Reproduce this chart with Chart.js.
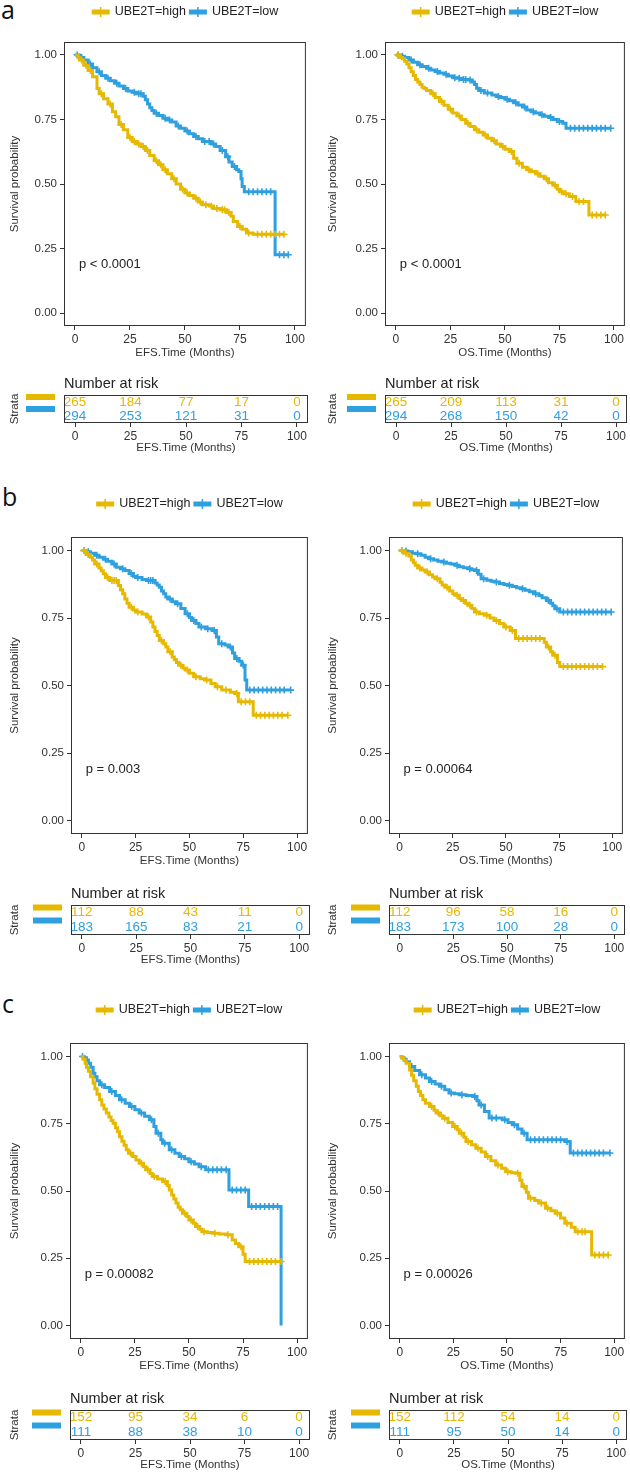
<!DOCTYPE html>
<html>
<head>
<meta charset="utf-8">
<script src="https://cdn.jsdelivr.net/npm/chart.js@4.4.1/dist/chart.umd.min.js"></script>
<style>
  body { margin: 0; background: #fff; }
  #wrap { position: relative; width: 630px; height: 1473px; overflow: hidden; background: #fff; }
  #wrap canvas { position: absolute; }
  .tag { position: absolute; font-family: "Open Sans", "Noto Sans", sans-serif; font-size: 25px; line-height: 24px; color: #111; }
</style>
</head>
<body>
<div id="wrap">
  <div class="tag" style="left:1px;top:-3px">a</div>
  <div class="tag" style="left:2px;top:484px">b</div>
  <div class="tag" style="left:2px;top:991px">c</div>
</div>
<script>
const HIGH = '#E7B800';
const LOW = '#2E9FDF';
const strata = ['UBE2T=high', 'UBE2T=low'];
const xTicks = [0, 25, 50, 75, 100];
const yTicks = [0, 0.25, 0.5, 0.75, 1];
const riskTimes = [0, 25, 50, 75, 100];

// KM curves as [months, survival]; a point with the same survival as the one before is a censor (+)
const aEfsHigh = [[0,1],[1.5,0.99],[2,0.98],[3,0.98],[4,0.96],[5,0.96],[6,0.94],[7,0.94],[8,0.915],[10,0.87],[11,0.85],[12,0.85],[13,0.83],[15,0.81],[16,0.81],[17,0.78],[18.5,0.76],[20,0.73],[21,0.73],[22,0.71],[24,0.68],[25,0.68],[26,0.665],[27,0.665],[28,0.655],[29,0.655],[30,0.645],[31,0.645],[32,0.63],[33,0.63],[34,0.61],[36,0.59],[37,0.59],[38,0.575],[39,0.575],[40,0.555],[41,0.555],[42,0.54],[44,0.52],[45,0.52],[46,0.5],[48,0.48],[49,0.48],[50,0.465],[51,0.465],[52,0.455],[54,0.445],[55,0.445],[56,0.43],[57,0.43],[58,0.42],[59.5,0.42],[61,0.415],[62,0.415],[63,0.405],[64.5,0.405],[66,0.4],[67,0.4],[68,0.4],[69,0.39],[70,0.39],[71,0.375],[72,0.355],[74,0.335],[75,0.335],[76,0.325],[78,0.31],[79,0.31],[81,0.305],[83,0.305],[85,0.305],[87,0.305],[89,0.305],[91,0.305],[93,0.305],[95,0.305]];
const aEfsLow = [[0,1],[1,1],[2,0.99],[3,0.99],[4,0.98],[6,0.965],[7,0.965],[8,0.95],[10,0.935],[11,0.935],[12,0.92],[14,0.91],[15,0.91],[16,0.9],[18,0.89],[19,0.89],[20,0.88],[22,0.87],[23,0.87],[24,0.86],[26,0.855],[27,0.855],[28,0.85],[29,0.85],[30,0.85],[31,0.84],[32,0.826],[33,0.81],[34,0.795],[35,0.785],[36,0.774],[37,0.774],[38,0.765],[40,0.755],[41,0.755],[42,0.748],[43,0.748],[44,0.74],[46,0.725],[47,0.725],[48,0.716],[50,0.705],[51,0.705],[52,0.695],[54,0.684],[55,0.684],[56,0.675],[58,0.665],[59,0.665],[61,0.665],[62,0.655],[63,0.655],[64,0.645],[66,0.63],[67,0.63],[68.5,0.606],[69.5,0.606],[70,0.585],[71.5,0.568],[72.5,0.568],[73.5,0.555],[74.5,0.548],[75.5,0.52],[76,0.49],[77,0.47],[79,0.47],[81,0.47],[83,0.47],[85,0.47],[87,0.47],[89,0.47],[91,0.226],[93,0.226],[95,0.226],[97,0.226]];
const aOsHigh = [[0,1],[1,1],[2,0.99],[3,0.985],[4,0.975],[5,0.965],[6,0.95],[7,0.935],[8,0.92],[9,0.905],[10,0.895],[11,0.885],[12,0.875],[13,0.87],[14,0.862],[16,0.85],[17,0.85],[18,0.835],[20,0.82],[21,0.82],[22,0.805],[24,0.79],[25,0.79],[26,0.775],[28,0.763],[29,0.763],[30,0.75],[32,0.735],[33,0.735],[34,0.723],[36,0.71],[37,0.71],[38,0.7],[40,0.69],[41,0.69],[42,0.677],[44,0.668],[45,0.668],[46,0.655],[48,0.645],[49,0.645],[50,0.635],[52,0.626],[53,0.626],[54,0.6],[55.5,0.58],[56.5,0.58],[58,0.565],[60,0.555],[61,0.555],[62,0.548],[64,0.54],[65,0.54],[66,0.53],[68,0.52],[69,0.52],[70,0.505],[72,0.495],[73,0.495],[74,0.48],[75,0.47],[76,0.47],[77,0.462],[78,0.462],[79.5,0.452],[81,0.452],[82.5,0.432],[84,0.432],[86,0.432],[88.5,0.38],[90,0.38],[92,0.38],[94,0.38],[96,0.38]];
const aOsLow = [[0,1],[1,1],[2,0.995],[3,0.995],[4,0.99],[6,0.98],[7,0.98],[8,0.972],[10,0.962],[11,0.962],[12,0.955],[14,0.948],[15,0.948],[16,0.942],[18,0.936],[19,0.936],[20,0.93],[22,0.925],[23,0.925],[24,0.918],[26,0.912],[27,0.912],[28,0.91],[29,0.91],[30,0.905],[31,0.905],[32,0.905],[33,0.903],[34,0.903],[35,0.895],[36,0.885],[37,0.871],[38,0.862],[39,0.862],[40.5,0.852],[42,0.852],[44,0.845],[46,0.839],[47,0.839],[48,0.835],[50,0.828],[51,0.828],[52,0.822],[54,0.815],[55,0.815],[56,0.806],[58,0.798],[59,0.798],[60,0.787],[62,0.78],[63,0.78],[64,0.775],[66,0.768],[67,0.768],[68,0.762],[70,0.758],[71,0.758],[72,0.75],[74,0.742],[75,0.742],[76.5,0.735],[78,0.716],[80,0.716],[82,0.716],[84,0.716],[86,0.716],[88,0.716],[90,0.716],[92,0.716],[94,0.716],[96,0.716],[98.5,0.716]];

const bEfsHigh = [[0,1],[1,1],[2,0.985],[3,0.985],[4,0.975],[5,0.965],[6,0.95],[7,0.95],[8,0.935],[9,0.925],[10,0.914],[11,0.9],[12,0.9],[13,0.889],[14,0.889],[15,0.889],[16,0.889],[17,0.87],[18,0.855],[19,0.84],[20,0.82],[21,0.805],[22,0.79],[23,0.79],[24,0.78],[25,0.772],[26,0.772],[28,0.765],[30,0.754],[31,0.754],[32,0.735],[33,0.717],[34,0.7],[35,0.685],[36,0.667],[37,0.667],[38,0.655],[39,0.643],[40,0.625],[41,0.625],[42,0.606],[43,0.595],[44,0.585],[45,0.575],[46,0.575],[47,0.565],[48,0.557],[49,0.557],[50,0.545],[52,0.532],[53,0.532],[55,0.525],[57,0.52],[58,0.52],[60,0.507],[62,0.495],[63,0.495],[65,0.483],[67,0.483],[69,0.475],[71,0.47],[72,0.47],[72.7,0.44],[74,0.44],[76,0.44],[78,0.44],[79.6,0.39],[81,0.39],[83,0.39],[85,0.39],[87,0.39],[89,0.39],[91,0.39],[93,0.39],[95.7,0.39]];
const bEfsLow = [[0,1],[1,1],[2,0.995],[3,0.995],[4,0.99],[6,0.982],[7,0.982],[8,0.975],[10,0.968],[11,0.968],[12,0.96],[14,0.95],[15,0.95],[16,0.938],[18,0.932],[19,0.932],[20,0.926],[22,0.915],[23,0.915],[24,0.905],[25,0.9],[26,0.9],[28,0.893],[30,0.889],[31,0.889],[32,0.889],[33,0.889],[34,0.88],[35,0.872],[36,0.864],[37,0.85],[38,0.84],[39,0.828],[40,0.82],[41,0.82],[42,0.81],[43.5,0.803],[44.5,0.803],[46,0.785],[48,0.766],[49,0.766],[50,0.752],[51,0.741],[52,0.741],[53,0.73],[54.4,0.717],[55.5,0.717],[57.4,0.71],[58.5,0.71],[60.5,0.704],[61.5,0.704],[62.5,0.68],[63.6,0.655],[65,0.655],[66.5,0.65],[68,0.643],[69,0.643],[70,0.62],[71,0.6],[72,0.6],[73,0.59],[74.3,0.575],[75,0.575],[75.8,0.52],[76.6,0.483],[78,0.483],[80,0.483],[82,0.483],[84,0.483],[86,0.483],[88,0.483],[90,0.483],[92,0.483],[94,0.483],[97,0.483]];
const bOsHigh = [[0,1],[1,1],[2,0.99],[3,0.99],[4.3,0.98],[5.5,0.965],[6.5,0.955],[7.4,0.945],[8.5,0.935],[9.5,0.935],[10.5,0.928],[12,0.92],[13,0.92],[14,0.91],[15.5,0.902],[16.7,0.895],[17.7,0.895],[19,0.882],[20,0.872],[21.3,0.864],[22.3,0.864],[23.5,0.85],[25,0.84],[26,0.834],[27,0.834],[28,0.822],[29,0.815],[30,0.815],[31,0.805],[32,0.797],[33,0.797],[34,0.785],[35.2,0.772],[36.2,0.772],[37.5,0.766],[39.8,0.76],[41,0.76],[42.5,0.75],[44.4,0.741],[45.5,0.741],[47,0.73],[49,0.717],[50,0.717],[52,0.704],[53,0.704],[54.5,0.674],[56,0.674],[58,0.674],[60,0.674],[62,0.674],[64,0.674],[66,0.674],[68,0.66],[69,0.643],[70,0.643],[71,0.625],[72,0.612],[73,0.612],[74.2,0.585],[75.3,0.57],[77,0.57],[79,0.57],[81,0.57],[83,0.57],[85,0.57],[87,0.57],[89,0.57],[91,0.57],[93,0.57],[95.4,0.57]];
const bOsLow = [[0,1],[1,1],[2,0.998],[3,0.998],[4,0.995],[6,0.99],[7.4,0.988],[8.5,0.988],[10,0.982],[12,0.975],[13.6,0.969],[14.6,0.969],[16,0.965],[18,0.96],[19.8,0.957],[20.8,0.957],[22,0.953],[24,0.95],[26,0.945],[27,0.945],[28,0.94],[30,0.936],[32,0.932],[33,0.932],[34,0.929],[35.2,0.926],[36.2,0.926],[37,0.912],[38.3,0.895],[39.5,0.895],[41,0.89],[43,0.886],[44.4,0.883],[45.5,0.883],[47,0.878],[49,0.874],[50.6,0.871],[51.6,0.871],[53,0.867],[55,0.862],[56.8,0.858],[57.8,0.858],[59,0.853],[61,0.847],[63,0.84],[64,0.84],[65.5,0.833],[67,0.825],[69,0.815],[70,0.815],[71,0.805],[72,0.795],[73,0.784],[74,0.784],[75.3,0.772],[77,0.772],[79,0.772],[81,0.772],[83,0.772],[85,0.772],[87,0.772],[89,0.772],[91,0.772],[93,0.772],[95,0.772],[97,0.772],[99.5,0.772]];

const cEfsHigh = [[0,1],[1,0.99],[2,0.975],[2.6,0.96],[3.5,0.945],[4.5,0.925],[5.7,0.9],[6.5,0.88],[7.5,0.86],[8.7,0.839],[9.7,0.82],[10.7,0.805],[11.8,0.79],[13,0.775],[14,0.762],[14.9,0.752],[16,0.735],[17,0.72],[17.9,0.702],[19,0.685],[20,0.67],[21,0.653],[22,0.64],[23,0.64],[24,0.628],[25.5,0.615],[27,0.603],[28,0.603],[29,0.59],[30,0.579],[31,0.579],[32,0.565],[33,0.554],[34,0.554],[35.5,0.545],[37.8,0.535],[39,0.535],[40,0.52],[40.9,0.504],[42,0.485],[43,0.47],[44,0.455],[45,0.44],[46,0.43],[47,0.417],[48,0.417],[49,0.405],[50,0.392],[51,0.392],[52,0.38],[53,0.368],[54,0.368],[55,0.358],[56,0.349],[57,0.349],[58.5,0.346],[60.8,0.343],[62,0.343],[64,0.34],[67,0.337],[68,0.337],[70,0.318],[71.5,0.305],[73,0.293],[74,0.293],[75,0.265],[76,0.238],[78,0.238],[80,0.238],[82,0.238],[84,0.238],[86,0.238],[88,0.238],[90,0.238],[92.6,0.238]];
const cEfsLow = [[0,1],[0.8,1],[1.5,0.995],[2.6,0.987],[3.5,0.975],[4.5,0.96],[5.7,0.938],[6.5,0.925],[7.5,0.91],[8.7,0.895],[9.7,0.895],[11,0.885],[13.3,0.87],[14.3,0.87],[16,0.855],[17.9,0.839],[18.9,0.839],[20.5,0.826],[22.5,0.814],[23.5,0.814],[25,0.802],[27,0.79],[28,0.79],[29.5,0.778],[31.7,0.765],[32.7,0.765],[33.8,0.74],[34.8,0.715],[35.8,0.715],[37,0.69],[37.8,0.677],[38.8,0.677],[40.9,0.653],[42,0.653],[43.5,0.64],[45.5,0.628],[46.5,0.628],[48,0.62],[50,0.609],[51,0.609],[52.5,0.6],[54.7,0.59],[55.7,0.59],[57.7,0.579],[59,0.579],[61,0.579],[63,0.579],[65,0.579],[67.2,0.579],[68.5,0.504],[70,0.504],[72,0.504],[74,0.504],[76,0.504],[77.6,0.442],[79,0.442],[81,0.442],[83,0.442],[85,0.442],[87,0.442],[89,0.442],[91,0.442],[92.6,0]];
const cOsHigh = [[0,1],[1,0.995],[2,0.985],[3,0.975],[4.6,0.95],[5.5,0.93],[6.5,0.91],[7.7,0.889],[8.7,0.87],[9.7,0.855],[10.8,0.839],[12,0.826],[13.9,0.814],[14.9,0.814],[16,0.8],[17,0.79],[18,0.79],[19,0.78],[20,0.77],[21,0.77],[22.5,0.755],[24.7,0.74],[25.7,0.74],[26.8,0.728],[27.8,0.715],[28.8,0.715],[29.9,0.7],[30.9,0.684],[31.9,0.684],[33.5,0.672],[35.5,0.659],[36.5,0.659],[38,0.645],[40,0.628],[41,0.628],[42.5,0.612],[44.8,0.597],[45.8,0.597],[47.5,0.585],[49.4,0.572],[50.4,0.572],[52,0.568],[54,0.566],[55,0.566],[56,0.54],[57,0.517],[58,0.517],[59,0.495],[60,0.473],[61,0.473],[63,0.465],[64.8,0.455],[66,0.455],[68,0.436],[69,0.436],[70.5,0.427],[72.5,0.417],[73.5,0.417],[75,0.4],[77,0.38],[78,0.38],[80,0.365],[81.8,0.349],[83,0.349],[85,0.349],[86.4,0.349],[89.5,0.262],[91,0.262],[93,0.262],[95,0.262],[97.2,0.262]];
const cOsLow = [[0,1],[1,0.995],[2,0.99],[3,0.98],[4.6,0.963],[5.6,0.963],[7,0.948],[9.3,0.932],[10.3,0.932],[12,0.92],[13.9,0.907],[14.9,0.907],[16.5,0.898],[18.5,0.889],[19.5,0.889],[21,0.876],[23,0.864],[24,0.864],[25.5,0.861],[27.8,0.858],[29,0.858],[31,0.855],[34,0.851],[35,0.851],[36,0.835],[37,0.82],[38,0.82],[39.5,0.795],[41.7,0.771],[43,0.771],[45,0.771],[47.8,0.765],[49,0.765],[50.5,0.755],[52.5,0.746],[53.5,0.746],[55,0.73],[57,0.715],[58,0.715],[59.4,0.69],[61,0.69],[63,0.69],[65,0.69],[67,0.69],[69,0.69],[71,0.69],[73,0.69],[75,0.69],[77,0.684],[78,0.684],[79.5,0.641],[81,0.641],[83,0.641],[85,0.641],[87,0.641],[89,0.641],[91,0.641],[93,0.641],[95,0.641],[98,0.641]];

// number at risk at 0, 25, 50, 75, 100 months
const aEfsRiskHigh = [265, 184, 77, 17, 0];
const aEfsRiskLow = [294, 253, 121, 31, 0];
const aOsRiskHigh = [265, 209, 113, 31, 0];
const aOsRiskLow = [294, 268, 150, 42, 0];
const bEfsRiskHigh = [112, 88, 43, 11, 0];
const bEfsRiskLow = [183, 165, 83, 21, 0];
const bOsRiskHigh = [112, 96, 58, 16, 0];
const bOsRiskLow = [183, 173, 100, 28, 0];
const cEfsRiskHigh = [152, 95, 34, 6, 0];
const cEfsRiskLow = [111, 88, 38, 10, 0];
const cOsRiskHigh = [152, 112, 54, 14, 0];
const cOsRiskLow = [111, 95, 50, 14, 0];

const pValues = ['p < 0.0001', 'p < 0.0001', 'p = 0.003', 'p = 0.00064', 'p = 0.00082', 'p = 0.00026'];

const FONT = '"Liberation Sans", Arial, sans-serif';
Chart.defaults.font.family = FONT;
const wrap = document.getElementById('wrap');

// page geometry of each row (plot box and risk table box)
const rows = [
  { T: 42, B: 326, RT: 395, RB: 423, gap: 30, L: [64, 385], R: [308, 627] },
  { T: 537, B: 834, RT: 905, RB: 935, gap: 33, L: [71, 389], R: [310, 625] },
  { T: 1043, B: 1339, RT: 1410, RB: 1440, gap: 33, L: [70, 389], R: [310, 627] }
];
const CL = [8, 326];
const PADTOP = 40;

function addCanvas(left, top, w, h) {
  const c = document.createElement('canvas');
  c.width = w; c.height = h;
  c.style.left = left + 'px'; c.style.top = top + 'px';
  c.style.width = w + 'px'; c.style.height = h + 'px';
  wrap.appendChild(c);
  return c;
}

const boxPlugin = {
  id: 'box',
  afterDraw(chart) {
    const a = chart.chartArea, ctx = chart.ctx;
    ctx.save();
    ctx.strokeStyle = '#333';
    ctx.lineWidth = 1;
    ctx.strokeRect(a.left + 0.5, a.top + 0.5, a.right - a.left - 1, a.bottom - a.top - 1);
    ctx.restore();
  }
};

const legendPlugin = {
  id: 'kmLegend',
  afterDraw(chart, args, opts) {
    const ctx = chart.ctx, a = chart.chartArea;
    ctx.save();
    ctx.font = '12.5px ' + FONT;
    const sw = 18, gap = 5, sep = 3;
    const items = chart.data.datasets.map(d => ({ text: d.label, color: d.borderColor, w: sw + gap + ctx.measureText(d.label).width }));
    const total = items.reduce((s, it) => s + it.w, 0) + sep * (items.length - 1);
    let x = (a.left + a.right) / 2 - total / 2;
    const y = a.top - opts.gap;
    items.forEach(it => {
      ctx.fillStyle = it.color;
      ctx.fillRect(x, y - 2.5, sw, 5);
      ctx.fillRect(x + sw / 2 - 0.75, y - 5, 1.5, 10);
      ctx.fillStyle = '#222';
      ctx.textAlign = 'left';
      ctx.textBaseline = 'middle';
      ctx.fillText(it.text, x + sw + gap, y);
      x += it.w + sep;
    });
    ctx.restore();
  }
};

const pvalPlugin = {
  id: 'pval',
  afterDatasetsDraw(chart, args, opts) {
    const ctx = chart.ctx, sx = chart.scales.x, sy = chart.scales.y;
    ctx.save();
    ctx.font = '13px ' + FONT;
    ctx.fillStyle = '#222';
    ctx.textAlign = 'left';
    ctx.textBaseline = 'middle';
    ctx.fillText(opts.text, sx.getPixelForValue(opts.at[0]), sy.getPixelForValue(opts.at[1]));
    ctx.restore();
  }
};

const riskPlugin = {
  id: 'risk',
  afterDatasetsDraw(chart) {
    const ctx = chart.ctx, a = chart.chartArea;
    ctx.save();
    ctx.font = '13.5px ' + FONT;
    ctx.textAlign = 'center';
    ctx.textBaseline = 'middle';
    chart.data.datasets.forEach((ds, i) => {
      const meta = chart.getDatasetMeta(i);
      ctx.fillStyle = ds.borderColor;
      meta.data.forEach((pt, j) => ctx.fillText(String(ds.counts[j]), pt.x, pt.y));
      const by = meta.data[0].y - 5 - 2 * i;
      ctx.fillRect(a.left - 38, by - 3, 29, 6);
    });
    ctx.restore();
  }
};

function xScale(title, h) {
  return {
    type: 'linear', min: -5, max: 105,
    afterBuildTicks: s => { s.ticks = xTicks.map(v => ({ value: v })); },
    afterFit: s => { s.height = h; },
    ticks: { font: { size: 12 }, color: '#333', padding: 2, maxRotation: 0, autoSkip: false },
    grid: { display: true, drawOnChartArea: false, drawTicks: true, tickLength: 4, color: '#333' },
    border: { display: false },
    title: { display: true, text: title, font: { size: 11.5 }, color: '#333', padding: { top: 0, bottom: 2 } }
  };
}

function curveSet(label, color, pts) {
  const data = pts.map(p => ({ x: p[0], y: p[1] }));
  return {
    label, data,
    borderColor: color, backgroundColor: color,
    borderWidth: 3, stepped: true, fill: false,
    pointStyle: 'cross',
    pointRadius: c => (c.dataIndex > 0 && data[c.dataIndex].y === data[c.dataIndex - 1].y) ? 3.5 : 0,
    pointHoverRadius: 0,
    pointBorderWidth: 1.6,
    pointBorderColor: color
  };
}

function kmChart(row, side, xTitle, high, low, pText) {
  const g = rows[row], cl = CL[side], L = g.L[side], R = g.R[side];
  const canvas = addCanvas(cl, g.T - PADTOP, R - cl + 3, g.B - g.T + PADTOP + 36);
  new Chart(canvas, {
    type: 'line',
    data: { datasets: [curveSet(strata[0], HIGH, high), curveSet(strata[1], LOW, low)] },
    options: {
      responsive: false, animation: false, devicePixelRatio: 1,
      layout: { padding: { top: PADTOP, right: 3, left: 0, bottom: 0 } },
      plugins: {
        legend: { display: false },
        tooltip: { enabled: false },
        kmLegend: { gap: g.gap },
        pval: { text: pText, at: [1.8, 0.19] }
      },
      scales: {
        x: xScale(xTitle, 36),
        y: {
          type: 'linear', min: -0.05, max: 1.05,
          afterBuildTicks: s => { s.ticks = yTicks.map(v => ({ value: v })); },
          afterFit: s => { s.width = L - cl; },
          ticks: { callback: v => Number(v).toFixed(2), font: { size: 11.5 }, color: '#333', padding: 3 },
          grid: { display: true, drawOnChartArea: false, drawTicks: true, tickLength: 4, color: '#333' },
          border: { display: false },
          title: { display: true, text: 'Survival probability', font: { size: 11.5 }, color: '#333', padding: { top: 0, bottom: 0 } }
        }
      }
    },
    plugins: [boxPlugin, legendPlugin, pvalPlugin]
  });
}

function riskChart(row, side, xTitle, nHigh, nLow) {
  const g = rows[row], cl = CL[side], L = g.L[side], R = g.R[side];
  const canvas = addCanvas(cl, g.RT - 20, R - cl + 3, 20 + (g.RB - g.RT) + 34);
  const rowSet = (i, color, counts) => ({
    label: strata[i],
    data: riskTimes.map(t => ({ x: t, y: strata[i] })),
    counts, borderColor: color, backgroundColor: color,
    pointRadius: 0, pointHoverRadius: 0, showLine: false
  });
  new Chart(canvas, {
    type: 'scatter',
    data: { datasets: [rowSet(0, HIGH, nHigh), rowSet(1, LOW, nLow)] },
    options: {
      responsive: false, animation: false, devicePixelRatio: 1,
      layout: { padding: { top: 0, right: 3, left: 0, bottom: 0 } },
      plugins: {
        legend: { display: false },
        tooltip: { enabled: false },
        title: {
          display: true, text: 'Number at risk', align: 'start', fullSize: false,
          font: { size: 14.5, weight: 'normal' }, color: '#222', padding: { top: 0, bottom: 2.6 }
        }
      },
      scales: {
        x: xScale(xTitle, 34),
        y: {
          type: 'category', labels: strata, offset: true,
          afterFit: s => { s.width = L - cl; },
          ticks: { display: false },
          grid: { display: false },
          border: { display: false },
          title: { display: true, text: 'Strata', font: { size: 11.5 }, color: '#333', padding: { top: 0, bottom: 0 } }
        }
      }
    },
    plugins: [boxPlugin, riskPlugin]
  });
}

kmChart(0, 0, 'EFS.Time (Months)', aEfsHigh, aEfsLow, pValues[0]);
kmChart(0, 1, 'OS.Time (Months)', aOsHigh, aOsLow, pValues[1]);
kmChart(1, 0, 'EFS.Time (Months)', bEfsHigh, bEfsLow, pValues[2]);
kmChart(1, 1, 'OS.Time (Months)', bOsHigh, bOsLow, pValues[3]);
kmChart(2, 0, 'EFS.Time (Months)', cEfsHigh, cEfsLow, pValues[4]);
kmChart(2, 1, 'OS.Time (Months)', cOsHigh, cOsLow, pValues[5]);

riskChart(0, 0, 'EFS.Time (Months)', aEfsRiskHigh, aEfsRiskLow);
riskChart(0, 1, 'OS.Time (Months)', aOsRiskHigh, aOsRiskLow);
riskChart(1, 0, 'EFS.Time (Months)', bEfsRiskHigh, bEfsRiskLow);
riskChart(1, 1, 'OS.Time (Months)', bOsRiskHigh, bOsRiskLow);
riskChart(2, 0, 'EFS.Time (Months)', cEfsRiskHigh, cEfsRiskLow);
riskChart(2, 1, 'OS.Time (Months)', cOsRiskHigh, cOsRiskLow);
</script>
</body>
</html>
